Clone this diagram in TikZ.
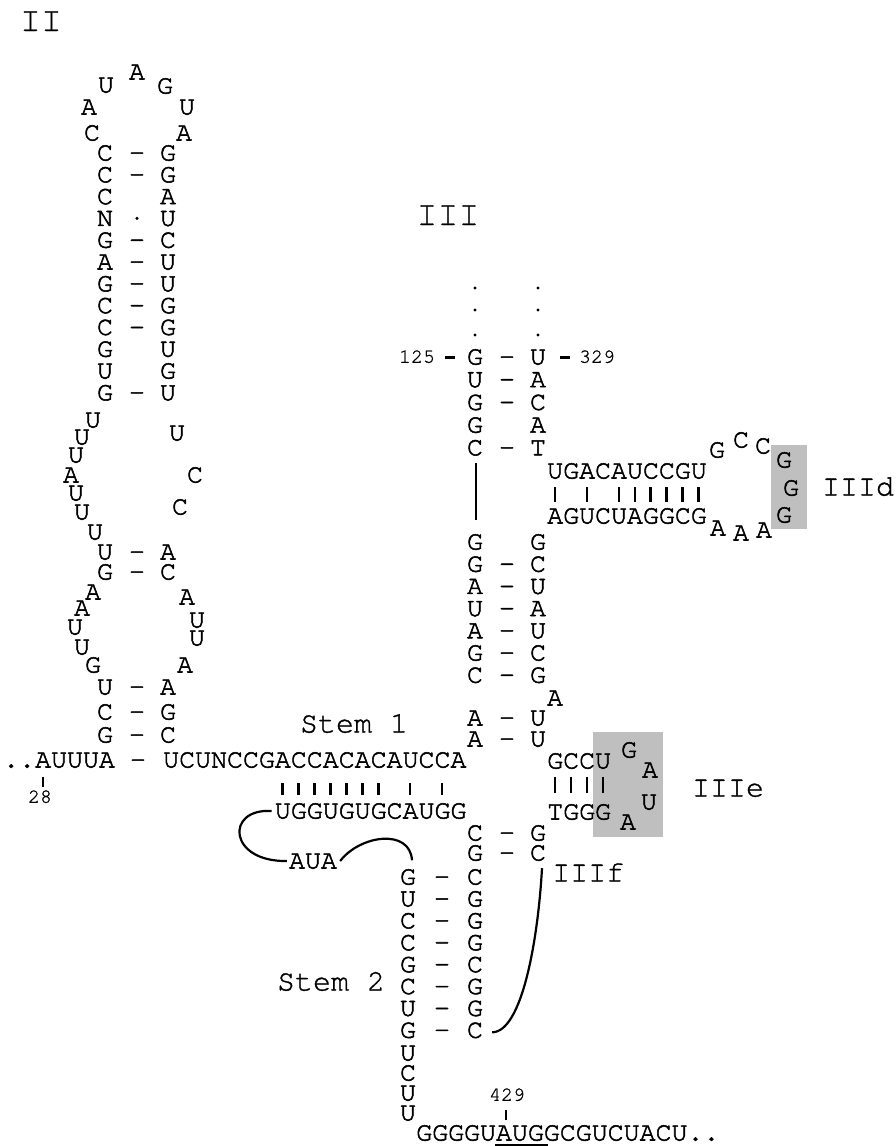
\documentclass[tikz,border=0pt]{standalone}
\usepackage{fontspec}
\usetikzlibrary{calc}
\newfontfamily\curfam{TeX Gyre Cursor}[FakeBold=1]
\newfontfamily\curbold{TeX Gyre Cursor}[FakeBold=2]
\newcommand\curfont[1]{\curfam\fontsize{#1}{#1}\selectfont}
\newcommand\ntfont{\curbold\fontsize{26.6}{26.6}\selectfont}
\tikzset{
  nt/.style={font=\ntfont,inner sep=0pt,text height=15pt,text depth=0pt},
  ntw/.style={nt,anchor=west},
  lab/.style={font=\curfont{30},inner sep=0pt,text height=17pt,text depth=0pt},
  labw/.style={lab,anchor=west},
  big/.style={font=\curfont{35},inner sep=0pt,text height=20pt,text depth=0pt},
  num/.style={font=\curfont{20},inner sep=0pt,text height=11.5pt,text depth=0pt},
  pairbar/.style={line width=2.4pt},
  thickdash/.style={line width=3pt},
  link/.style={line width=2.2pt},
  hilite/.style={fill=black!25,draw=none},
}
\begin{document}
\begin{tikzpicture}[x=1pt,y=-1pt]
\fill[white] (0,0) rectangle (895,1146);
\useasboundingbox (0,0) rectangle (895,1146);

% ---------- labels ----------
\node[big] (labII) at (41,21) {II};
\node[big] (labIII) at (448,215) {III};

% ---------- domain II apical loop ----------
\node[nt] (ap1) at (92,133) {C};
\node[nt] (ap2) at (89,107) {A};
\node[nt] (ap3) at (106,85) {U};
\node[nt] (ap4) at (137,72) {A};
\node[nt] (ap5) at (165,86) {G};
\node[nt] (ap6) at (187,107) {U};
\node[nt] (ap7) at (184,133) {A};

% ---------- domain II upper stem ----------
\foreach \t [count=\i] in {C,C,C,N,G,A,G,C,C,G,U,G}
  \node[nt] (IIL\i) at (105,{153+21.8*(\i-1)}) {\t};
\foreach \t [count=\i] in {G,G,A,U,C,U,U,G,G,U,G,U}
  \node[nt] (IIR\i) at (168,{153+21.8*(\i-1)}) {\t};
\foreach \i in {1,2,5,6,7,8,9,12}
  \node[nt] (IID\i) at (137,{153+21.8*(\i-1)}) {-};
\fill (137,{153+21.8*3}) circle (1.7pt);

% ---------- internal loop 1 ----------
\node[nt] (bl1) at (93,420) {U};
\node[nt] (bl2) at (82,437) {U};
\node[nt] (bl3) at (76,455) {U};
\node[nt] (bl4) at (71,475) {A};
\node[nt] (bl5) at (76,493) {U};
\node[nt] (bl6) at (82,512) {U};
\node[nt] (bl7) at (95,532) {U};
\node[nt] (br1) at (177,433) {U};
\node[nt] (br2) at (195,475) {C};
\node[nt] (br3) at (180,507) {C};

\node[nt] (p1l) at (105,552) {U}; \node[nt] (p1d) at (137,552) {-}; \node[nt] (p1r) at (168,552) {A};
\node[nt] (p2l) at (105,572) {G}; \node[nt] (p2d) at (137,572) {-}; \node[nt] (p2r) at (168,572) {C};

% ---------- internal loop 2 ----------
\node[nt] (cl1) at (93,592) {A};
\node[nt] (cl2) at (82,608) {A};
\node[nt] (cl3) at (75,627) {U};
\node[nt] (cl4) at (82,647) {U};
\node[nt] (cl5) at (93,665) {G};
\node[nt] (cr1) at (187,597) {A};
\node[nt] (cr2) at (197,620) {U};
\node[nt] (cr3) at (197,638) {U};
\node[nt] (cr4) at (185,665) {A};

\node[nt] (p3l) at (105,687) {U}; \node[nt] (p3d) at (137,687) {-}; \node[nt] (p3r) at (168,687) {A};
\node[nt] (p4l) at (105,712) {C}; \node[nt] (p4d) at (137,712) {-}; \node[nt] (p4r) at (168,712) {G};
\node[nt] (p5l) at (105,735) {G}; \node[nt] (p5d) at (137,735) {-}; \node[nt] (p5r) at (168,735) {C};

% ---------- main line / stem 1 ----------
\node[ntw] (five) at (3,760) {..AUUUA};
\node[nt] (mdash) at (138,760) {-};
\node[ntw] (s1top) at (163,760) {UCUNCCGACCACACAUCCA};
\draw[pairbar] (43,777) -- (43,787);
\node[num] (n28) at (40,797) {28};
\node[lab] (stem1) at (354,724) {Stem 1};
\foreach \i in {7,8,9,10,11,12,13,15,17}
  \draw[pairbar] ({163+7.98+15.95*\i},783) -- ++(0,12);
\node[ntw] (s1bot) at (274.7,811) {UGGUGUGCAUGG};
\node[nt] (aua) at (313,861) {AUA};

% ---------- domain III top ----------
\foreach \y in {288,310,335} {
  \fill (475,\y) circle (1.6pt);
  \fill (538,\y) circle (1.6pt);
}
\foreach \t [count=\i] in {G,U,G,G,C}
  \node[nt] (TL\i) at (475,{357+22.7*(\i-1)}) {\t};
\foreach \t [count=\i] in {U,A,C,A,T}
  \node[nt] (TR\i) at (538,{357+22.7*(\i-1)}) {\t};
\foreach \i in {1,2,3,5}
  \node[nt] (TD\i) at (507,{357+22.7*(\i-1)}) {-};
\node[num] (n125) at (417,357) {125};
\draw[thickdash] (445,357) -- (455,357);
\draw[thickdash] (560,357) -- (570,357);
\node[num] (n329) at (597,357) {329};

% ---------- IIId ----------
\fill[hilite] (771,445) rectangle (807,529);
\node[ntw] (d1) at (547,471) {UGACAUCCGU};
\foreach \i in {0,2,4,5,6,7,8,9}
  \draw[pairbar] ({547+7.98+15.95*\i},487) -- ++(0,15);
\node[ntw] (d2) at (547,516) {AGUCUAGGCG};
\node[nt] (dl1) at (717,450) {G};
\node[nt] (dl2) at (741,440) {C};
\node[nt] (dl3) at (763,446) {C};
\node[nt] (dl4) at (784,460) {G};
\node[nt] (dl5) at (791,488) {G};
\node[nt] (dl6) at (784,515) {G};
\node[nt] (dl7) at (764,530) {A};
\node[nt] (dl8) at (741,533) {A};
\node[nt] (dl9) at (718,528) {A};
\node[lab] (labIIId) at (858,487) {IIId};

% ---------- central stem ----------
\foreach \t [count=\i] in {G,G,A,U,A,G,C}
  \node[nt] (ML\i) at (475,{542+22.2*(\i-1)}) {\t};
\foreach \t [count=\i] in {G,C,U,A,U,C,G}
  \node[nt] (MR\i) at (538,{542+22.2*(\i-1)}) {\t};
\foreach \i in {2,...,7}
  \node[nt] (MD\i) at (507,{542+22.2*(\i-1)}) {-};
\node[nt] (mbulge) at (555,698) {A};
\node[nt] (q1l) at (475,718) {A}; \node[nt] (q1d) at (507,718) {-}; \node[nt] (q1r) at (538,718) {U};
\node[nt] (q2l) at (475,739) {A}; \node[nt] (q2d) at (507,739) {-}; \node[nt] (q2r) at (538,739) {U};

% ---------- IIIe ----------
\fill[hilite] (593,732) rectangle (663,837);
\node[ntw] (e1) at (547,761) {GCCU};
\foreach \i in {0,1,2,3}
  \draw[pairbar] ({547+7.98+15.95*\i},777) -- ++(0,16);
\node[ntw] (e2) at (547,812) {TGGG};
\node[nt] (el1) at (629,750) {G};
\node[nt] (el2) at (650,770) {A};
\node[nt] (el3) at (649,802) {U};
\node[nt] (el4) at (628,822) {A};
\node[lab] (labIIIe) at (728,788) {IIIe};

% ---------- lower central pairs ----------
\node[nt] (r1l) at (475,833) {C}; \node[nt] (r1d) at (507,833) {-}; \node[nt] (r1r) at (538,833) {G};
\node[nt] (r2l) at (475,853) {G}; \node[nt] (r2d) at (507,853) {-}; \node[nt] (r2r) at (538,853) {C};
\node[labw] (labIIIf) at (552,873) {IIIf};

% ---------- stem 2 ----------
\foreach \t [count=\i] in {G,U,C,C,G,C,U,G}
  \node[nt] (SL\i) at (408,{877+21.9*(\i-1)}) {\t};
\foreach \t [count=\i] in {C,G,G,G,C,G,G,C}
  \node[nt] (SR\i) at (475,{877+21.9*(\i-1)}) {\t};
\foreach \i in {1,...,8}
  \node[nt] (SD\i) at (442,{877+21.9*(\i-1)}) {-};
\node[nt] (t1) at (408,1053) {U};
\node[nt] (t2) at (408,1073) {C};
\node[nt] (t3) at (408,1093) {U};
\node[nt] (t4) at (408,1113) {U};
\node[lab] (stem2) at (331,982) {Stem 2};

% ---------- 3' end ----------
\node[num] (n429) at (507,1095) {429};
\draw[pairbar] (506,1110) -- (506,1120);
\node[ntw] (three) at (416,1133) {GGGGUAUGGCGUCUACU..};
\draw[line width=1.8pt] (495,1145) -- (548,1145);

% ---------- connectors ----------
\draw[line width=2.2pt] ($(TL5.south)+(1,7)$) -- ($(ML1.north)+(1,-14)$);
\draw[link] ($(s1bot.west)+(-3,0)$) .. controls (225,808) and (228,862) .. ($(aua.west)+(-2,0)$);
\draw[link] ($(aua.east)+(3,0)$) .. controls (360,835) and (410,828) .. ($(SL1.north)+(4,-9)$);
\draw[link] ($(r2r.south)+(4,7.5)$) .. controls (538,940) and (522,1032) .. ($(SR8.east)+(9,2)$);
\end{tikzpicture}
\end{document}
